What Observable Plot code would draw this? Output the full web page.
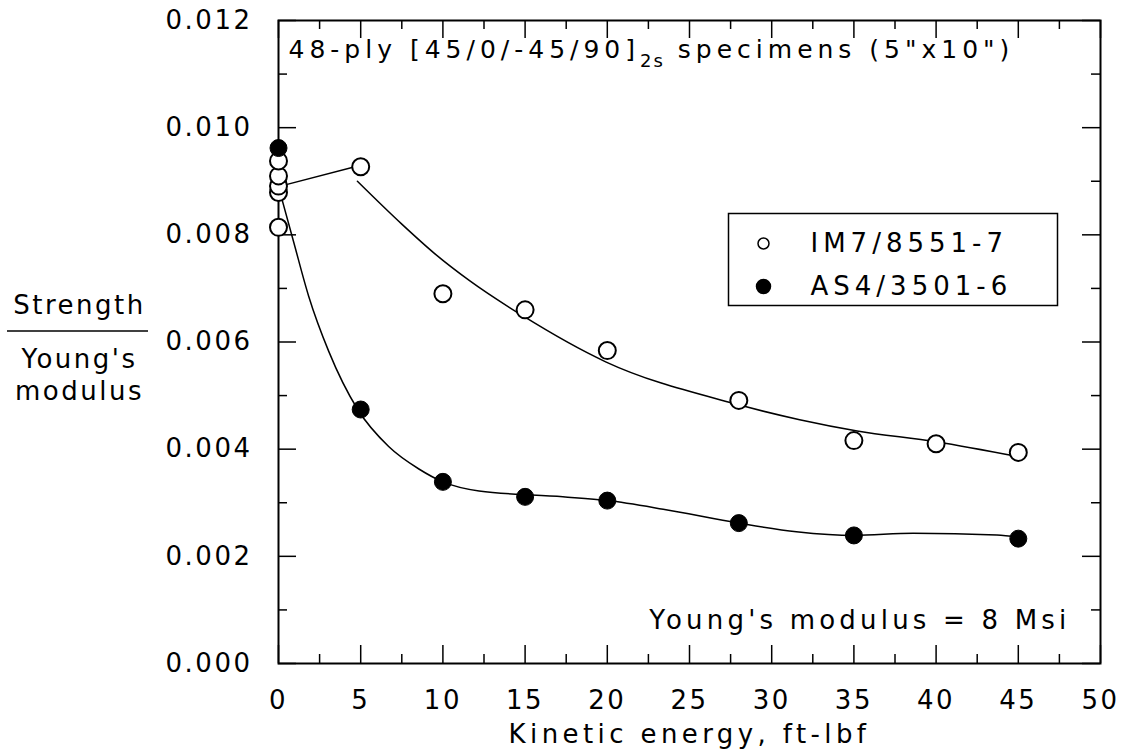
<!DOCTYPE html>
<html>
<head>
<meta charset="utf-8">
<script src="https://cdn.jsdelivr.net/npm/d3@7"></script>
<script src="https://cdn.jsdelivr.net/npm/@observablehq/plot@0.6"></script>
<style>
  html, body { margin: 0; padding: 0; background: white; }
  #chart { width: 1124px; height: 751px; }
</style>
</head>
<body>
<div id="chart"></div>
<script>
// ---- data ----
const energyIM7 = [0, 0, 0, 0, 0, 5, 10, 15, 20, 28, 35, 40, 45];
const ratioIM7  = [0.00814, 0.00879, 0.00891, 0.0091, 0.00938, 0.00927, 0.0069, 0.0066, 0.00584, 0.00491, 0.00416, 0.0041, 0.00394];

const energyAS4 = [0, 5, 10, 15, 20, 28, 35, 45];
const ratioAS4  = [0.00962, 0.00474, 0.00339, 0.00311, 0.00304, 0.00262, 0.00239, 0.00233];

// fitted curves
const fitIM7X = [4.8, 7.5, 9.5, 11.6, 14.8, 19.9, 27.6, 31.7, 35.2, 40, 45];
const fitIM7Y = [0.00900, 0.0082, 0.00765, 0.00715, 0.0065, 0.00563, 0.00486, 0.00455, 0.00434, 0.00414, 0.00386];
const linkIM7X = [0, 5];
const linkIM7Y = [0.0089, 0.0093];
const fitAS4X = [0, 0.91, 1.83, 3.05, 4.82, 6.7, 8.54, 10, 12.2, 17.3, 20, 23.4, 28, 31.5, 35, 38.6, 43.7, 45];
const fitAS4Y = [0.0089, 0.00788, 0.00686, 0.00583, 0.00474, 0.00405, 0.00363, 0.00339, 0.00322, 0.00311, 0.00304, 0.00288, 0.00262, 0.00246, 0.00239, 0.00243, 0.0024, 0.00236];

// ticks and labels
const xTickLabels = [0, 5, 10, 15, 20, 25, 30, 35, 40, 45, 50];
const xMinorTicks = [2.5, 7.5, 12.5, 17.5, 22.5, 27.5, 32.5, 37.5, 42.5, 47.5];
const yTickLabels = [0, 0.002, 0.004, 0.006, 0.008, 0.010, 0.012];
const yMinorTicks = [0.001, 0.003, 0.005, 0.007, 0.009, 0.011];
const legendLabels = ["IM7/8551-7", "AS4/3501-6"];
const titleParts = ["48-ply [45/0/-45/90]", "2s", " specimens (5\"x10\")"];
const xLabel = "Kinetic energy, ft-lbf";
const yLabelTop = ["Strength"];
const yLabelBottom = ["Young's", "modulus"];
const noteText = "Young's modulus = 8 Msi";

// ---- build tables ----
const im7 = energyIM7.map((x, i) => ({x, y: ratioIM7[i]}));
const as4 = energyAS4.map((x, i) => ({x, y: ratioAS4[i]}));
const fitIM7 = fitIM7X.map((x, i) => ({x, y: fitIM7Y[i]}));
const linkIM7 = linkIM7X.map((x, i) => ({x, y: linkIM7Y[i]}));
const fitAS4 = fitAS4X.map((x, i) => ({x, y: fitAS4Y[i]}));

const W = 1124, H = 751, ML = 278, MR = 24, MT = 20, MB = 88;
const IW = W - ML - MR, IH = H - MT - MB;
const major = 18, minor = 9;

const plot = Plot.plot({
  width: W, height: H,
  marginLeft: ML, marginRight: MR, marginTop: MT, marginBottom: MB,
  x: {domain: [0, 50], axis: null},
  y: {domain: [0, 0.012], axis: null},
  style: {fontFamily: "DejaVu Sans", fontSize: "26px", background: "white", color: "black", letterSpacing: "2.5px"},
  marks: [
    // inward ticks
    Plot.tickY(yTickLabels, {y: d => d, insetRight: IW - major, stroke: "black", strokeWidth: 1.5}),
    Plot.tickY(yTickLabels, {y: d => d, insetLeft: IW - major, stroke: "black", strokeWidth: 1.5}),
    Plot.tickY(yMinorTicks, {y: d => d, insetRight: IW - minor, stroke: "black", strokeWidth: 1.5}),
    Plot.tickY(yMinorTicks, {y: d => d, insetLeft: IW - minor, stroke: "black", strokeWidth: 1.5}),
    Plot.tickX(xTickLabels, {x: d => d, insetTop: IH - major, stroke: "black", strokeWidth: 1.5}),
    Plot.tickX(xTickLabels, {x: d => d, insetBottom: IH - major, stroke: "black", strokeWidth: 1.5}),
    Plot.tickX(xMinorTicks, {x: d => d, insetTop: IH - minor, stroke: "black", strokeWidth: 1.5}),
    Plot.tickX(xMinorTicks, {x: d => d, insetBottom: IH - minor, stroke: "black", strokeWidth: 1.5}),
    Plot.frame({stroke: "black", strokeWidth: 2}),
    // tick labels
    Plot.axisX({ticks: xTickLabels, tickSize: 0, tickPadding: 0, dy: 27, tickFormat: d => String(d), label: null, fontSize: 26}),
    Plot.axisY({ticks: yTickLabels, tickSize: 0, tickPadding: 26, tickFormat: d3.format(".3f"), label: null, fontSize: 26}),
    // curves
    Plot.line(linkIM7, {x: "x", y: "y", stroke: "black", strokeWidth: 1.5}),
    Plot.line(fitIM7, {x: "x", y: "y", curve: "monotone-x", stroke: "black", strokeWidth: 1.5}),
    Plot.line(fitAS4, {x: "x", y: "y", curve: "monotone-x", stroke: "black", strokeWidth: 1.5}),
    // points
    Plot.dot(im7, {x: "x", y: "y", r: 8.5, fill: "white", stroke: "black", strokeWidth: 2}),
    Plot.dot(as4, {x: "x", y: "y", r: 8.5, fill: "black", stroke: "black", strokeWidth: 1}),
    // legend
    Plot.frame({insetLeft: 450, insetRight: 43, insetTop: 193, insetBottom: 358, stroke: "black", strokeWidth: 1.5}),
    Plot.dot([0], {frameAnchor: "top-left", dx: 485, dy: 223, r: 5.5, fill: "white", stroke: "black", strokeWidth: 1.5}),
    Plot.dot([0], {frameAnchor: "top-left", dx: 485, dy: 266, r: 7, fill: "black", stroke: "black"}),
    Plot.text([legendLabels[0]], {frameAnchor: "top-left", dx: 532, dy: 223, text: d => d, textAnchor: "start", lineAnchor: "middle", fontSize: 26, className: "leg"}),
    Plot.text([legendLabels[1]], {frameAnchor: "top-left", dx: 532, dy: 266, text: d => d, textAnchor: "start", lineAnchor: "middle", fontSize: 26, className: "leg"}),
    // title inside frame
    Plot.text([titleParts.join("")], {frameAnchor: "top-left", dx: 10, dy: 37, text: d => d, textAnchor: "start", lineAnchor: "bottom", fontSize: 25, className: "ttl"}),
    // note
    Plot.text([noteText], {frameAnchor: "bottom-right", dx: -30, dy: -35, text: d => d, textAnchor: "end", lineAnchor: "bottom", fontSize: 26, className: "note"}),
    // x label
    Plot.text([xLabel], {frameAnchor: "bottom", dy: 79, text: d => d, textAnchor: "middle", lineAnchor: "bottom", fontSize: 26, className: "xlab"}),
    // y label
    Plot.text(yLabelTop, {frameAnchor: "top-left", dx: -199, dy: 293, text: d => d, textAnchor: "middle", lineAnchor: "bottom", fontSize: 26}),
    Plot.text([yLabelBottom[0]], {frameAnchor: "top-left", dx: -199, dy: 347, text: d => d, textAnchor: "middle", lineAnchor: "bottom", fontSize: 26}),
    Plot.text([yLabelBottom[1]], {frameAnchor: "top-left", dx: -199, dy: 379, text: d => d, textAnchor: "middle", lineAnchor: "bottom", fontSize: 26})
  ]
});

document.getElementById("chart").appendChild(plot);

const svg = d3.select(plot);
function spacing(cls, ls) {
  svg.selectAll(`.${cls} text, text.${cls}`).style("letter-spacing", ls);
}
spacing("leg", "5px");
spacing("ttl", "5px");
spacing("note", "4.2px");
spacing("xlab", "4.4px");

// subscript in the title
svg.selectAll(".ttl text, text.ttl").each(function() {
  const t = d3.select(this);
  t.text(null);
  t.append("tspan").text(titleParts[0]);
  t.append("tspan").attr("dy", 9).attr("font-size", 18).style("letter-spacing", "2px").text(titleParts[1]);
  t.append("tspan").attr("dy", -9).text(titleParts[2]);
});
// fraction bar of the y label
svg.append("line")
  .attr("x1", 7).attr("x2", 148).attr("y1", 331).attr("y2", 331)
  .attr("stroke", "black").attr("stroke-width", 1.5);
</script>
</body>
</html>
